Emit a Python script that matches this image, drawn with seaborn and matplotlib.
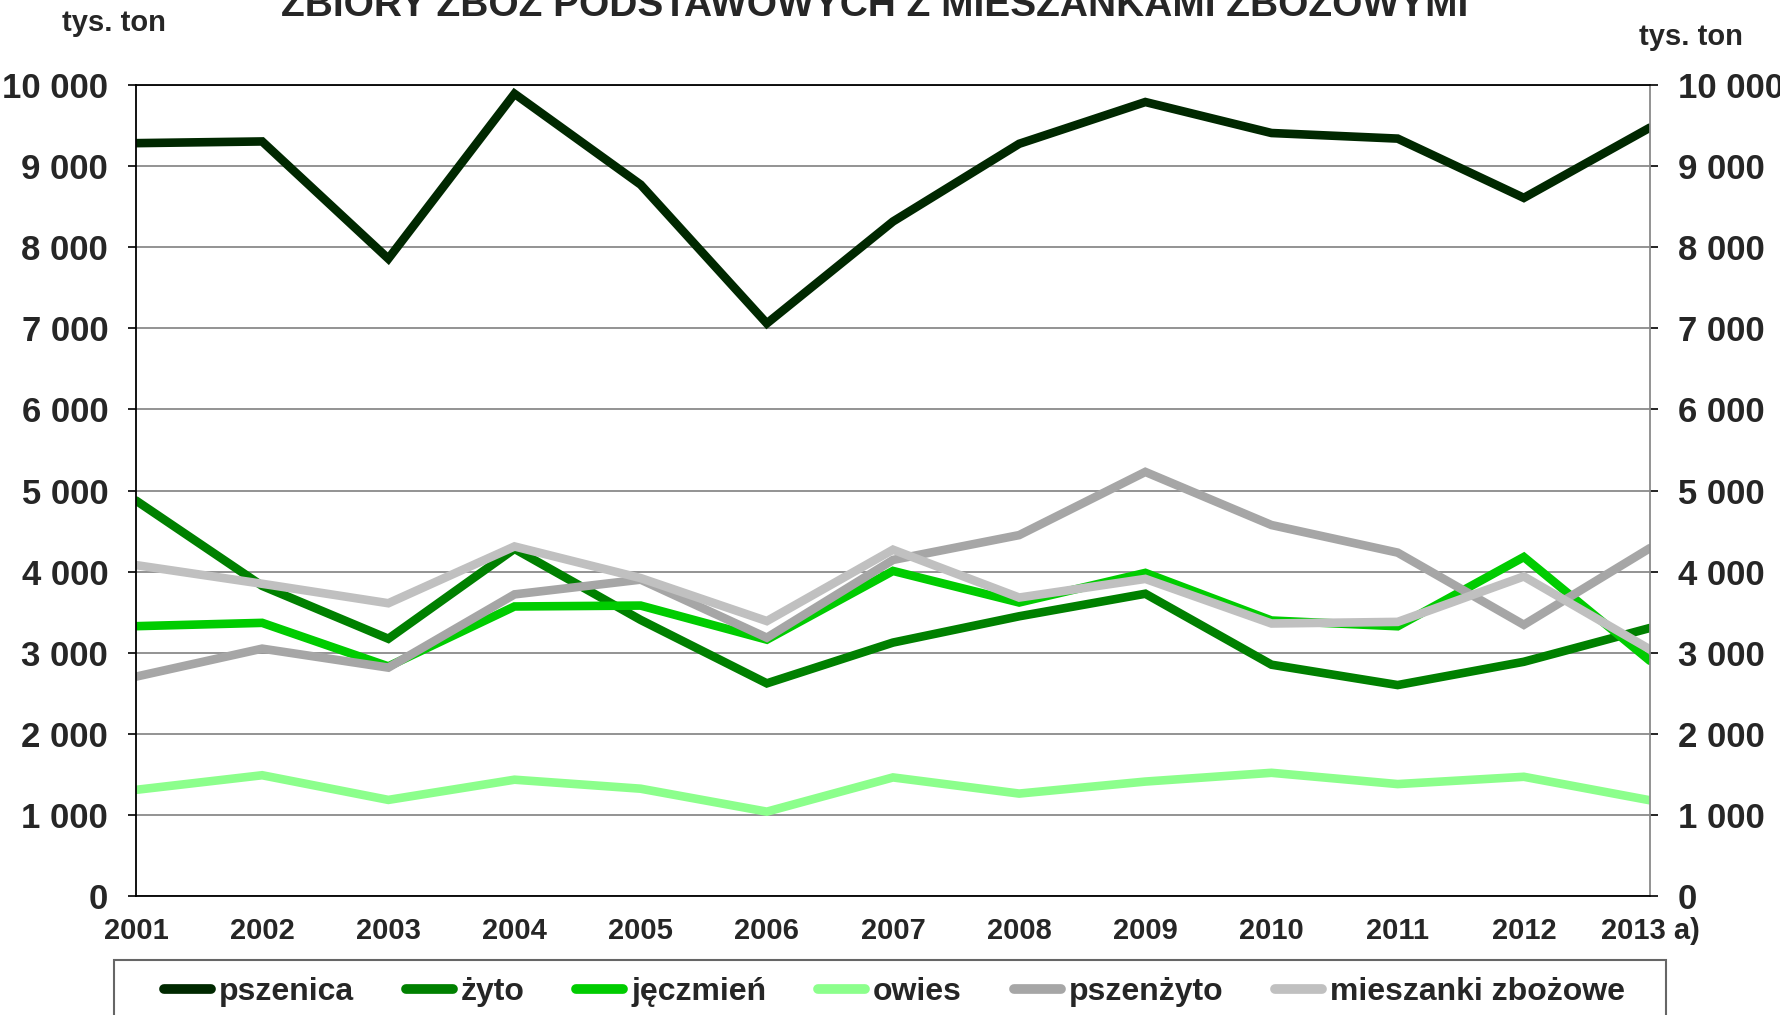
import numpy as np
import pandas as pd
import matplotlib
matplotlib.use("Agg")
import matplotlib.pyplot as plt
from matplotlib.patches import Rectangle
import seaborn as sns

# dane (tys. ton)
lata = list(range(2001, 2014))
etykiety_lat = [str(r) for r in lata[:-1]] + ["2013 a)"]
pszenica = [9283, 9304, 7858, 9892, 8771, 7060, 8317, 9275, 9790, 9408, 9339, 8608, 9475]
zyto = [4876, 3824, 3172, 4281, 3404, 2622, 3125, 3449, 3727, 2852, 2601, 2888, 3305]
jeczmien = [3327, 3368, 2831, 3570, 3581, 3161, 4008, 3619, 3984, 3397, 3326, 4180, 2900]
owies = [1309, 1489, 1185, 1434, 1323, 1040, 1462, 1263, 1411, 1519, 1380, 1470, 1180]
pszenzyto = [2705, 3050, 2816, 3719, 3901, 3185, 4144, 4450, 5229, 4574, 4234, 3344, 4290]
mieszanki = [4080, 3850, 3610, 4310, 3920, 3390, 4270, 3680, 3910, 3360, 3380, 3940, 3040]

nazwy = ["pszenica", "żyto", "jęczmień", "owies", "pszenżyto", "mieszanki zbożowe"]
kolory = ["#002800", "#008000", "#00cc00", "#8cff8c", "#a6a6a6", "#c0c0c0"]
y_ticks = list(range(0, 10001, 1000))
y_labels = ["0", "1 000", "2 000", "3 000", "4 000", "5 000",
            "6 000", "7 000", "8 000", "9 000", "10 000"]

sns.set_style("white")
plt.rcParams["font.family"] = ["Liberation Sans Narrow", "Liberation Sans", "DejaVu Sans"]
plt.rcParams["font.weight"] = "bold"

serie = [pszenica, zyto, jeczmien, owies, pszenzyto, mieszanki]
df = pd.concat([
    pd.DataFrame({"rok": lata, "wartosc": v, "zboze": n})
    for n, v in zip(nazwy, serie)
])

fig = plt.figure(figsize=(17.81, 10.15), dpi=100)
ax = fig.add_axes([136 / 1781, 1 - 896 / 1015, (1650 - 136) / 1781, (896 - 85) / 1015])

sns.lineplot(data=df, x="rok", y="wartosc", hue="zboze", hue_order=nazwy,
             palette=kolory, linewidth=6.2, legend=False, ax=ax)
for ln in ax.lines:
    ln.set_solid_joinstyle("miter")

ax.set_xlim(2001, 2013)
ax.set_ylim(0, 10000)
ax.set_xlabel("")
ax.set_ylabel("")
ax.set_yticks(y_ticks)
ax.set_yticklabels(y_labels)
ax.set_xticks(lata)
ax.set_xticklabels(etykiety_lat)
ax.yaxis.grid(True, color="#8a8a8a", linewidth=1.3)
ax.set_axisbelow(True)

for s in ["left", "bottom", "top"]:
    ax.spines[s].set_color("black")
    ax.spines[s].set_linewidth(1.3)
ax.spines["right"].set_color("#8a8a8a")
ax.spines["right"].set_linewidth(1.3)

ax.tick_params(axis="y", which="both", left=True, right=True, labelright=True,
               length=6, width=1.2, labelsize=25, pad=14, color="black")
for t in ax.yaxis.get_major_ticks():
    t.tick2line.set_color("#8a8a8a")
ax.tick_params(axis="x", direction="inout", length=10, width=1.0,
               labelsize=21, pad=10, color="black")
for lab in ax.get_yticklabels() + ax.get_xticklabels():
    lab.set_fontweight("bold")

fig.text(875 / 1781, 1 - 16 / 1015, "ZBIORY ZBÓŻ PODSTAWOWYCH Z MIESZANKAMI ZBOŻOWYMI",
         ha="center", va="baseline", fontsize=28, fontweight="bold")
fig.text(62 / 1781, 1 - 23 / 1015, "tys. ton", ha="left", va="center",
         fontsize=21, fontweight="bold")
fig.text(1639 / 1781, 1 - 37 / 1015, "tys. ton", ha="left", va="center",
         fontsize=21, fontweight="bold")

# ramka legendy (dolna krawedz poza obrazem, jak w oryginale)
fig.add_artist(Rectangle((114 / 1781, -0.05), (1666 - 114) / 1781, 0.05 + 1 - 960 / 1015,
                         transform=fig.transFigure, fill=False,
                         edgecolor="#666666", linewidth=1.5))

leg = fig.legend(ax.lines[:6], nazwy, loc="center left",
                 bbox_to_anchor=(164 / 1781, 1 - 992 / 1015),
                 ncol=6, frameon=False,
                 handlelength=1.47, handletextpad=0.25, columnspacing=1.62,
                 borderpad=0, borderaxespad=0, prop={"weight": "bold", "size": 23})
for h in leg.legend_handles:
    h.set_solid_capstyle("round")
    h.set_linewidth(7)

fig.savefig("out.png", dpi=100)
